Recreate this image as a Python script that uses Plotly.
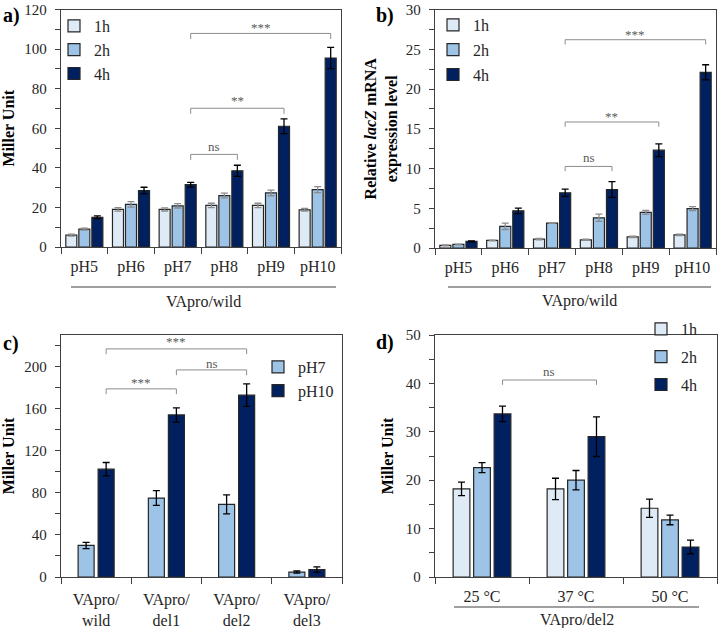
import plotly.graph_objects as go

# ---------------- data ----------------
ph_cats = ["pH5", "pH6", "pH7", "pH8", "pH9", "pH10"]
a_1h = [6.0, 19.0, 19.0, 21.0, 21.0, 18.8]
a_2h = [9.0, 21.5, 20.8, 26.0, 27.3, 29.0]
a_4h = [15.0, 28.5, 31.5, 38.5, 61.0, 95.5]
a_1h_err = [0.5, 0.9, 0.8, 1.1, 1.1, 0.7]
a_2h_err = [0.5, 1.4, 1.1, 1.2, 1.4, 1.5]
a_4h_err = [0.7, 1.7, 1.2, 2.8, 3.7, 5.4]

b_1h = [0.33, 0.95, 1.12, 1.03, 1.40, 1.65]
b_2h = [0.45, 2.73, 3.14, 3.80, 4.47, 4.96]
b_4h = [0.83, 4.67, 6.95, 7.36, 12.3, 22.1]
b_1h_err = [0.05, 0.05, 0.08, 0.08, 0.08, 0.1]
b_2h_err = [0.05, 0.4, 0.05, 0.45, 0.25, 0.25]
b_4h_err = [0.05, 0.35, 0.45, 1.0, 0.8, 0.95]

strain_cats = ["VApro/<br>wild", "VApro/<br>del1", "VApro/<br>del2", "VApro/<br>del3"]
c_ph7 = [30.0, 75.0, 69.0, 4.7]
c_ph10 = [102.5, 154.0, 172.8, 7.0]
c_ph7_err = [3.0, 7.0, 9.0, 1.0]
c_ph10_err = [6.3, 6.8, 10.7, 2.6]

temp_cats = ["25 °C", "37 °C", "50 °C"]
d_1h = [18.2, 18.2, 14.2]
d_2h = [22.6, 20.0, 11.8]
d_4h = [33.7, 29.0, 6.2]
d_1h_err = [1.4, 2.2, 1.9]
d_2h_err = [1.05, 2.0, 1.0]
d_4h_err = [1.6, 4.1, 1.4]

# ---------------- style ----------------
W, H = 718, 628
FONT = "Liberation Serif, Times New Roman, serif"
C1, C2, C4 = "#DEEBF7", "#9DC3E6", "#002060"
EDGE = "#262626"
AXC = "#404040"
TXT = "#262626"
GRAY = "#8C8C8C"


def px(x):
    return x / W


def py(y):
    return 1 - y / H


fig = go.Figure()


def add_bars(xa, ya, cats, vals, errs, color, errcol, name, legend, width, offset, group):
    fig.add_trace(go.Bar(
        x=cats, y=vals, name=name, xaxis=xa, yaxis=ya,
        width=width, offset=offset,
        marker=dict(color=color, line=dict(color=EDGE, width=1.2)),
        error_y=dict(type="data", array=errs, color=errcol, thickness=1.3, width=3.5),
        legend=legend, legendgroup=group, showlegend=True,
    ))


# panel a
wa, sa = 0.236, 0.279
for i, (v, e, c, ec, n) in enumerate([(a_1h, a_1h_err, C1, GRAY, "1h"),
                                      (a_2h, a_2h_err, C2, GRAY, "2h"),
                                      (a_4h, a_4h_err, C4, "#000000", "4h")]):
    add_bars("x", "y", ph_cats, v, e, c, ec, n, "legend", wa, (i - 1) * sa - wa / 2, "a" + n)
# panel b
for i, (v, e, c, ec, n) in enumerate([(b_1h, b_1h_err, C1, GRAY, "1h"),
                                      (b_2h, b_2h_err, C2, GRAY, "2h"),
                                      (b_4h, b_4h_err, C4, "#000000", "4h")]):
    add_bars("x2", "y2", ph_cats, v, e, c, ec, n, "legend2", wa, (i - 1) * sa - wa / 2, "b" + n)
# panel c
wc, sc = 0.228, 0.285
for i, (v, e, c, n) in enumerate([(c_ph7, c_ph7_err, C2, "pH7"), (c_ph10, c_ph10_err, C4, "pH10")]):
    add_bars("x3", "y3", strain_cats, v, e, c, "#000000", n, "legend3", wc, (i - 0.5) * sc - wc / 2, "c" + n)
# panel d
wd, sd = 0.178, 0.218
for i, (v, e, c, n) in enumerate([(d_1h, d_1h_err, C1, "1h"), (d_2h, d_2h_err, C2, "2h"),
                                  (d_4h, d_4h_err, C4, "4h")]):
    add_bars("x4", "y4", temp_cats, v, e, c, "#000000", n, "legend4", wd, (i - 1) * sd - wd / 2, "d" + n)

# ---------------- axes ----------------
def xaxis(domain, n, anchor, standoff=5):
    return dict(domain=domain, anchor=anchor, type="category", range=[-0.5, n - 0.5],
                automargin=False, ticklabeloverflow="allow",
                showline=True, linecolor=AXC, linewidth=1.3, mirror=True,
                ticks="outside", ticklen=6, tickcolor=AXC, tickwidth=1.3,
                tickson="boundaries", showgrid=False, zeroline=False,
                tickfont=dict(family=FONT, size=16, color=TXT), ticklabelstandoff=standoff)


def yaxis(domain, rng, dtick, anchor, title, standoff):
    return dict(domain=domain, anchor=anchor, range=rng, dtick=dtick,
                automargin=False, ticklabeloverflow="allow",
                showline=True, linecolor=AXC, linewidth=1.3, mirror=True,
                ticks="outside", ticklen=5, tickcolor=AXC, tickwidth=1.3,
                minor=dict(dtick=dtick / 2, ticks="outside", ticklen=5, tickcolor=AXC, tickwidth=1.3),
                showgrid=False, zeroline=False,
                tickfont=dict(family=FONT, size=15, color=TXT), ticklabelstandoff=5,
                title=dict(text=title, font=dict(family=FONT, size=16, color="#000000"), standoff=standoff))


dom_ax = [px(61), px(341)]
dom_bx = [px(435), px(716)]
dom_cx = [px(61), px(342)]
dom_dx = [px(435), px(717)]
dom_top = [py(247), py(9.5)]
dom_topb = [py(248), py(9.5)]
dom_bot = [py(577), py(335)]

fig.update_layout(
    xaxis=xaxis(dom_ax, 6, "y"),
    yaxis=yaxis(dom_top, [0, 120], 20, "x", "<b>Miller Unit</b>", 8),
    xaxis2=xaxis(dom_bx, 6, "y2"),
    yaxis2=yaxis(dom_topb, [0, 30], 5, "x2", "<b>Relative <i>lacZ</i> mRNA<br>expression level</b>", 4),
    xaxis3=xaxis(dom_cx, 4, "y3", 8),
    yaxis3=yaxis(dom_bot, [0, 230], 40, "x3", "<b>Miller Unit</b>", 8),
    xaxis4=xaxis(dom_dx, 3, "y4"),
    yaxis4=yaxis(dom_bot, [0, 50], 10, "x4", "<b>Miller Unit</b>", 8),
)

# ---------------- legends ----------------
def legend(x, y, gap):
    return dict(x=px(x), y=py(y), xanchor="left", yanchor="top", bgcolor="rgba(0,0,0,0)",
                font=dict(family=FONT, size=16, color=TXT), tracegroupgap=gap,
                itemclick=False, itemdoubleclick=False)


fig.update_layout(
    legend=legend(54, 9, 0),
    legend2=legend(433, 8, 1),
    legend3=legend(258, 350, 0),
    legend4=legend(641, 312, 4),
)

# ---------------- significance brackets ----------------
shapes = []
annots = []


def bracket(xr, yr, x0, x1, y, drop, text, ty):
    for (a0, b0, a1, b1) in [(x0, y, x1, y), (x0, y, x0, y - drop), (x1, y, x1, y - drop)]:
        shapes.append(dict(type="line", xref=xr, yref=yr, x0=a0, y0=b0, x1=a1, y1=b1,
                           line=dict(color=GRAY, width=1)))
    annots.append(dict(xref=xr, yref=yr, x=(x0 + x1) / 2, y=ty, text=text, showarrow=False,
                       font=dict(family=FONT, size=13, color="#595959")))


bracket("x", "y", 2 + sa, 3 + sa, 46.8, 2.8, "ns", 50.6)
bracket("x", "y", 2 + sa, 4 + sa, 70.1, 2.8, "**", 74.2)
bracket("x", "y", 2 + sa, 5 + sa, 107.9, 2.8, "***", 111.0)

bracket("x2", "y2", 2 + sa, 3 + sa, 10.26, 0.6, "ns", 11.35)
bracket("x2", "y2", 2 + sa, 4 + sa, 15.85, 0.6, "**", 16.6)
bracket("x2", "y2", 2 + sa, 5 + sa, 26.2, 0.6, "***", 26.9)

bracket("x3", "y3", 0 + sc / 2, 1 + sc / 2, 178.8, 5, "***", 185.3)
bracket("x3", "y3", 1 + sc / 2, 2 + sc / 2, 196.8, 5, "ns", 202.6)
bracket("x3", "y3", 0 + sc / 2, 2 + sc / 2, 216.8, 5, "***", 223.4)

bracket("x4", "y4", 0 + sd, 1 + sd, 40.7, 1.0, "ns", 42.5)

# ---------------- group labels ----------------
def group_label(x0, x1, yline, ytext, text):
    shapes.append(dict(type="line", xref="paper", yref="paper", x0=px(x0), x1=px(x1),
                       y0=py(yline), y1=py(yline), line=dict(color=AXC, width=1)))
    annots.append(dict(xref="paper", yref="paper", x=px((x0 + x1) / 2), y=py(ytext), text=text,
                       showarrow=False, xanchor="center", yanchor="middle",
                       font=dict(family=FONT, size=16, color=TXT)))


group_label(71, 336, 287, 301.5, "VApro/wild")
group_label(448, 711, 287, 300.5, "VApro/wild")
group_label(454, 699, 607, 620, "VApro/del2")

# panel letters
for t, x, y in [("a)", 1, 15), ("b)", 374, 15), ("c)", 1, 343), ("d)", 374, 342)]:
    annots.append(dict(xref="paper", yref="paper", x=px(x), y=py(y), text="<b>%s</b>" % t,
                       showarrow=False, xanchor="left", yanchor="middle",
                       font=dict(family=FONT, size=20, color="#000000")))

fig.update_layout(
    shapes=shapes, annotations=annots,
    barmode="overlay",
    width=W, height=H, margin=dict(l=0, r=0, t=0, b=0, autoexpand=False),
    paper_bgcolor="white", plot_bgcolor="white",
    font=dict(family=FONT, color=TXT),
)

fig.write_html("out.html")
